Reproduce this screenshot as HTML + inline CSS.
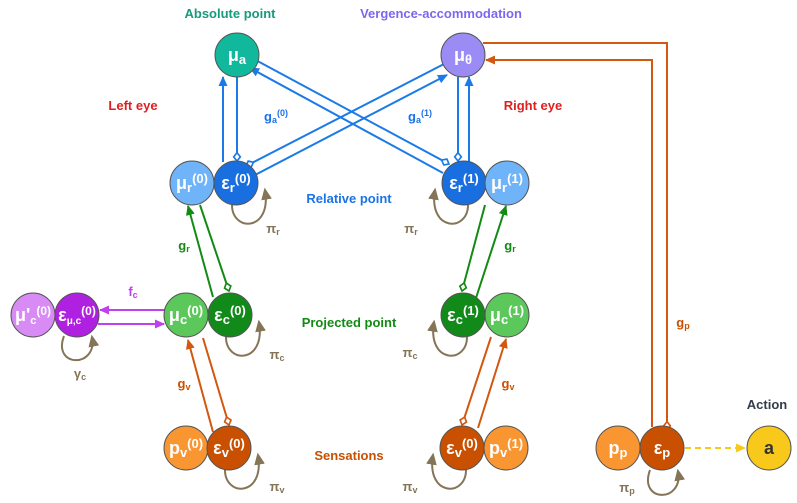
<!DOCTYPE html>
<html><head><meta charset="utf-8"><style>
html,body{margin:0;padding:0;background:#fff}
svg{display:block;font-family:"Liberation Sans",sans-serif}
.n{font-weight:bold;fill:#fff;font-size:18px}
.l{font-weight:bold;font-size:13px}
.s{font-size:10px}
</style></head><body>
<svg width="797" height="503" viewBox="0 0 797 503" xmlns="http://www.w3.org/2000/svg">
<defs>
<marker id="ab" viewBox="0 0 10 10" refX="9" refY="5" markerWidth="5" markerHeight="5" orient="auto"><path d="M0,0.5 L10,5 L0,9.5 z" fill="#1a7ae8"/></marker>
<marker id="ag" viewBox="0 0 10 10" refX="9" refY="5" markerWidth="5" markerHeight="5" orient="auto"><path d="M0,0.5 L10,5 L0,9.5 z" fill="#138a13"/></marker>
<marker id="ao" viewBox="0 0 10 10" refX="9" refY="5" markerWidth="5" markerHeight="5" orient="auto"><path d="M0,0.5 L10,5 L0,9.5 z" fill="#d2570f"/></marker>
<marker id="ap" viewBox="0 0 10 10" refX="9" refY="5" markerWidth="5" markerHeight="5" orient="auto"><path d="M0,0.5 L10,5 L0,9.5 z" fill="#c040f0"/></marker>
<marker id="ay" viewBox="0 0 10 10" refX="9" refY="5" markerWidth="5" markerHeight="5" orient="auto"><path d="M0,0.5 L10,5 L0,9.5 z" fill="#f8c81a"/></marker>
<marker id="an" viewBox="0 0 10 10" refX="8" refY="5" markerWidth="6" markerHeight="6" orient="auto"><path d="M0,0.5 L10,5 L0,9.5 z" fill="#857558"/></marker>
<marker id="db" viewBox="0 0 12 12" refX="11" refY="6" markerWidth="5" markerHeight="5" orient="auto"><path d="M1,6 L6,2 L11,6 L6,10 z" fill="#fff" stroke="#1a7ae8" stroke-width="2"/></marker>
<marker id="dg" viewBox="0 0 12 12" refX="11" refY="6" markerWidth="5" markerHeight="5" orient="auto"><path d="M1,6 L6,2 L11,6 L6,10 z" fill="#fff" stroke="#138a13" stroke-width="2"/></marker>
<marker id="do" viewBox="0 0 12 12" refX="11" refY="6" markerWidth="5" markerHeight="5" orient="auto"><path d="M1,6 L6,2 L11,6 L6,10 z" fill="#fff" stroke="#d2570f" stroke-width="2"/></marker>
</defs>

<g fill="none" stroke-width="2">
<line x1="223" y1="162" x2="223" y2="77" stroke="#1a7ae8" marker-end="url(#ab)"/>
<line x1="237" y1="77" x2="237" y2="161" stroke="#1a7ae8" marker-end="url(#db)"/>
<line x1="444" y1="64" x2="246" y2="166" stroke="#1a7ae8" marker-end="url(#db)"/>
<line x1="253" y1="176" x2="447" y2="75" stroke="#1a7ae8" marker-end="url(#ab)"/>
<line x1="252" y1="58" x2="449" y2="164" stroke="#1a7ae8" marker-end="url(#db)"/>
<line x1="443" y1="173" x2="250" y2="68" stroke="#1a7ae8" marker-end="url(#ab)"/>
<line x1="458" y1="77" x2="458" y2="161" stroke="#1a7ae8" marker-end="url(#db)"/>
<line x1="469" y1="162" x2="469" y2="77" stroke="#1a7ae8" marker-end="url(#ab)"/>
<line x1="213" y1="297" x2="188" y2="206" stroke="#138a13" marker-end="url(#ag)"/>
<line x1="200" y1="205" x2="229" y2="291" stroke="#138a13" marker-end="url(#dg)"/>
<line x1="485" y1="205" x2="462" y2="291" stroke="#138a13" marker-end="url(#dg)"/>
<line x1="476" y1="298" x2="506" y2="206" stroke="#138a13" marker-end="url(#ag)"/>
<line x1="213" y1="432" x2="188" y2="340" stroke="#d2570f" marker-end="url(#ao)"/>
<line x1="203" y1="338" x2="229" y2="425" stroke="#d2570f" marker-end="url(#do)"/>
<line x1="491" y1="337" x2="462" y2="425" stroke="#d2570f" marker-end="url(#do)"/>
<line x1="478" y1="428" x2="506" y2="339" stroke="#d2570f" marker-end="url(#ao)"/>
<polyline points="652,427 652,60 486,60" stroke="#d2570f" marker-end="url(#ao)"/>
<polyline points="483,43 667,43 667,430" stroke="#d2570f" marker-end="url(#do)"/>
<line x1="166" y1="310" x2="100" y2="310" stroke="#c040f0" marker-end="url(#ap)"/>
<line x1="98" y1="324" x2="164" y2="324" stroke="#c040f0" marker-end="url(#ap)"/>
<line x1="685" y1="448" x2="745" y2="448" stroke="#f8c81a" stroke-dasharray="6,4" marker-end="url(#ay)"/>
<g stroke="#857558">
<path d="M232,205 C232,232 272,232 265,190" marker-end="url(#an)"/>
<path d="M468,205 C468,232 428,232 435,190" marker-end="url(#an)"/>
<path d="M226,337 C226,364 266,364 259,322" marker-end="url(#an)"/>
<path d="M467,337 C467,364 427,364 434,322" marker-end="url(#an)"/>
<path d="M225,470 C225,497 265,497 258,455" marker-end="url(#an)"/>
<path d="M466,470 C466,497 426,497 433,455" marker-end="url(#an)"/>
<path d="M64,336 C52,368 98,368 92,337" marker-end="url(#an)"/>
<path d="M650,470 C638,503 684,503 678,471" marker-end="url(#an)"/>
</g>
</g>

<g stroke="#555" stroke-width="1">
<circle cx="237" cy="55" r="22" fill="#12b89c"/>
<circle cx="463" cy="55" r="22" fill="#9b8cf5"/>
<circle cx="192" cy="183" r="22" fill="#6fb3f8"/>
<circle cx="236" cy="183" r="22" fill="#1a6fe0"/>
<circle cx="464" cy="183" r="22" fill="#1a6fe0"/>
<circle cx="507" cy="183" r="22" fill="#6fb3f8"/>
<circle cx="33" cy="315" r="22" fill="#d88af5"/>
<circle cx="77" cy="315" r="22" fill="#b020e0"/>
<circle cx="186" cy="315" r="22" fill="#5cc85c"/>
<circle cx="230" cy="315" r="22" fill="#128a1a"/>
<circle cx="463" cy="315" r="22" fill="#128a1a"/>
<circle cx="507" cy="315" r="22" fill="#5cc85c"/>
<circle cx="186" cy="448" r="22" fill="#fa9632"/>
<circle cx="229" cy="448" r="22" fill="#c85000"/>
<circle cx="462" cy="448" r="22" fill="#c85000"/>
<circle cx="506" cy="448" r="22" fill="#fa9632"/>
<circle cx="618" cy="448" r="22" fill="#fa9632"/>
<circle cx="662" cy="448" r="22" fill="#c85000"/>
<circle cx="769" cy="448" r="22" fill="#f8c81a"/>
</g>

<g class="n" text-anchor="middle">
<text x="237" y="61">μ<tspan font-size="13" dy="3">a</tspan></text>
<text x="463" y="61">μ<tspan font-size="13" dy="3">θ</tspan></text>
<text x="192" y="189">μ<tspan font-size="13" dy="3">r</tspan><tspan font-size="13" dy="-9">(0)</tspan></text>
<text x="236" y="189">ε<tspan font-size="13" dy="3">r</tspan><tspan font-size="13" dy="-9">(0)</tspan></text>
<text x="464" y="189">ε<tspan font-size="13" dy="3">r</tspan><tspan font-size="13" dy="-9">(1)</tspan></text>
<text x="507" y="189">μ<tspan font-size="13" dy="3">r</tspan><tspan font-size="13" dy="-9">(1)</tspan></text>
<text x="33" y="321">μ'<tspan font-size="11" dy="3">c</tspan><tspan font-size="12" dy="-9">(0)</tspan></text>
<text x="77" y="321">ε<tspan font-size="10" dy="3">μ,c</tspan><tspan font-size="12" dy="-9">(0)</tspan></text>
<text x="186" y="321">μ<tspan font-size="13" dy="3">c</tspan><tspan font-size="13" dy="-9">(0)</tspan></text>
<text x="230" y="321">ε<tspan font-size="13" dy="3">c</tspan><tspan font-size="13" dy="-9">(0)</tspan></text>
<text x="463" y="321">ε<tspan font-size="13" dy="3">c</tspan><tspan font-size="13" dy="-9">(1)</tspan></text>
<text x="507" y="321">μ<tspan font-size="13" dy="3">c</tspan><tspan font-size="13" dy="-9">(1)</tspan></text>
<text x="186" y="454">p<tspan font-size="13" dy="3">v</tspan><tspan font-size="13" dy="-9">(0)</tspan></text>
<text x="229" y="454">ε<tspan font-size="13" dy="3">v</tspan><tspan font-size="13" dy="-9">(0)</tspan></text>
<text x="462" y="454">ε<tspan font-size="13" dy="3">v</tspan><tspan font-size="13" dy="-9">(0)</tspan></text>
<text x="506" y="454">p<tspan font-size="13" dy="3">v</tspan><tspan font-size="13" dy="-9">(1)</tspan></text>
<text x="618" y="454">p<tspan font-size="13" dy="3">p</tspan></text>
<text x="662" y="454">ε<tspan font-size="13" dy="3">p</tspan></text>
<text x="769" y="454" fill="#333">a</text>
</g>

<g class="l" text-anchor="middle">
<text x="230" y="18" fill="#179a7c">Absolute point</text>
<text x="441" y="18" fill="#7b68ee">Vergence-accommodation</text>
<text x="133" y="110" fill="#e02020">Left eye</text>
<text x="533" y="110" fill="#e02020">Right eye</text>
<text x="349" y="203" fill="#1a73e8">Relative point</text>
<text x="349" y="327" fill="#138a13">Projected point</text>
<text x="349" y="460" fill="#c85000">Sensations</text>
<text x="767" y="409" fill="#333c4a">Action</text>
<text x="276" y="121" fill="#1a73e8">g<tspan font-size="9" dy="2">a</tspan><tspan font-size="9" dy="-7">(0)</tspan></text>
<text x="420" y="121" fill="#1a73e8">g<tspan font-size="9" dy="2">a</tspan><tspan font-size="9" dy="-7">(1)</tspan></text>
<text x="184" y="250" fill="#138a13">g<tspan font-size="9" dy="2">r</tspan></text>
<text x="510" y="250" fill="#138a13">g<tspan font-size="9" dy="2">r</tspan></text>
<text x="184" y="388" fill="#c85000">g<tspan font-size="9" dy="2">v</tspan></text>
<text x="508" y="388" fill="#c85000">g<tspan font-size="9" dy="2">v</tspan></text>
<text x="683" y="327" fill="#c85000">g<tspan font-size="9" dy="2">p</tspan></text>
<text x="133" y="296" fill="#c040f0">f<tspan font-size="9" dy="2">c</tspan></text>
<text x="80" y="378" fill="#857558">γ<tspan font-size="9" dy="2">c</tspan></text>
<text x="273" y="233" fill="#857558">π<tspan font-size="9" dy="2">r</tspan></text>
<text x="411" y="233" fill="#857558">π<tspan font-size="9" dy="2">r</tspan></text>
<text x="277" y="359" fill="#857558">π<tspan font-size="9" dy="2">c</tspan></text>
<text x="410" y="357" fill="#857558">π<tspan font-size="9" dy="2">c</tspan></text>
<text x="277" y="491" fill="#857558">π<tspan font-size="9" dy="2">v</tspan></text>
<text x="410" y="491" fill="#857558">π<tspan font-size="9" dy="2">v</tspan></text>
<text x="627" y="492" fill="#857558">π<tspan font-size="9" dy="2">p</tspan></text>
</g>
</svg>
</body></html>
